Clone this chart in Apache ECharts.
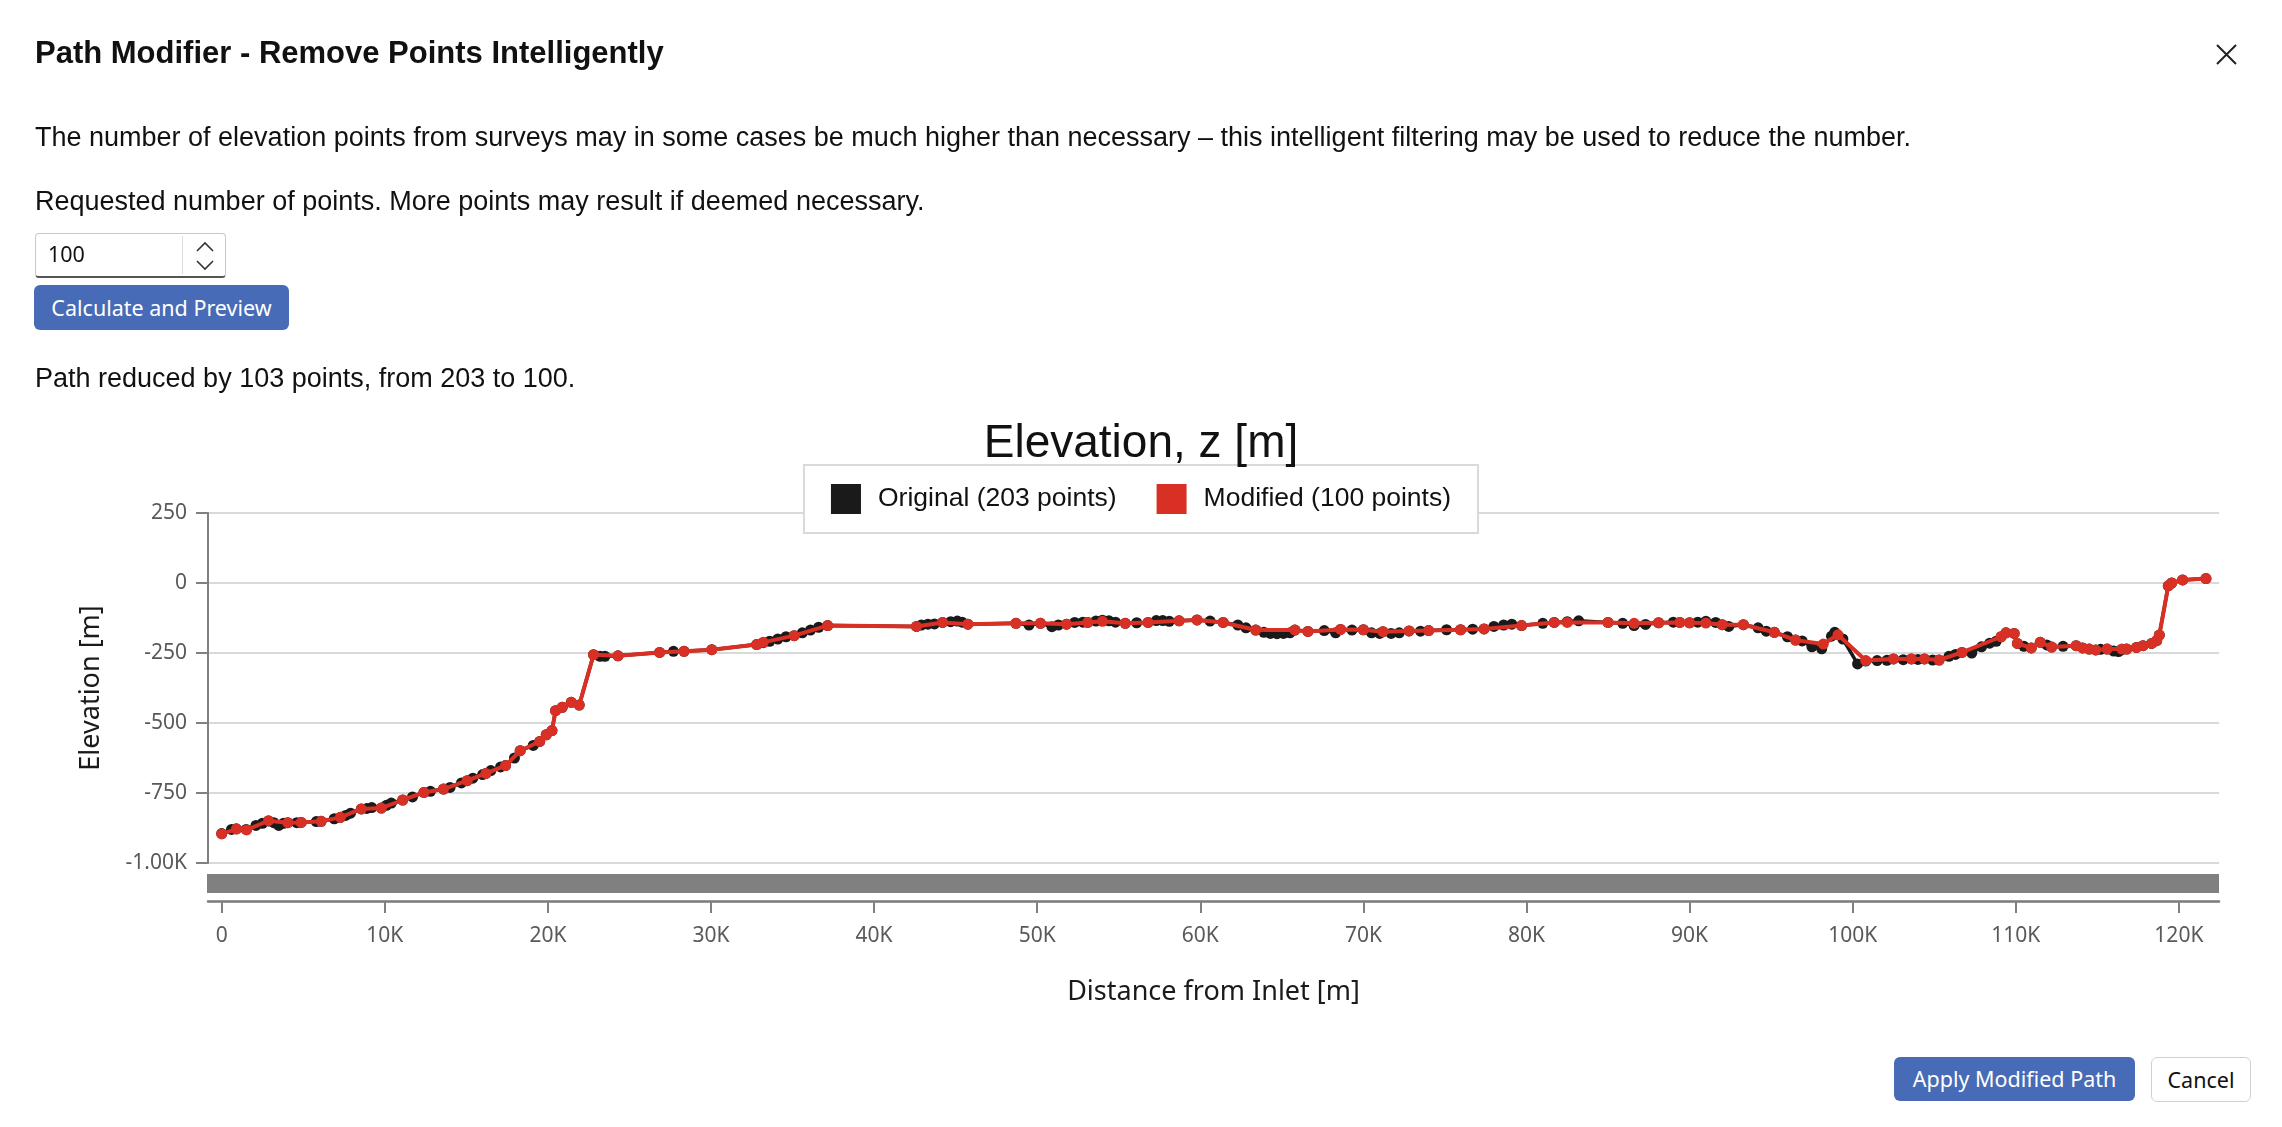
<!DOCTYPE html>
<html>
<head>
<meta charset="utf-8">
<title>Path Modifier</title>
<script src="https://cdn.jsdelivr.net/npm/echarts@6/dist/echarts.min.js"></script>
<style>
html, body { margin: 0; padding: 0; background: #fff; }
body { width: 2282px; height: 1127px; position: relative; overflow: hidden;
       font-family: "Liberation Sans", Arial, sans-serif; color: #111; }
#main { position: absolute; left: 0; top: 0; width: 2282px; height: 1127px; }
.ui { position: absolute; z-index: 2; white-space: nowrap; line-height: 1; }
.head { left: 35px; top: 37px; font-size: 31px; font-weight: bold; }
.txt { left: 35px; font-size: 27px; }
.num { left: 35px; top: 233px; width: 189px; height: 42px; border: 1px solid #c9c9c9;
       border-bottom: 2px solid #555; border-radius: 4px; box-sizing: content-box;
       font-family: "Noto Sans", sans-serif; font-size: 21.5px; }
.num span { position: absolute; left: 12px; top: 9px; }
.num .div { position: absolute; left: 146px; top: 2px; width: 1px; height: 38px; background: #ddd; }
.btn { background: #476bb6; color: #fff; border-radius: 6px; text-align: center;
       font-family: "Noto Sans", sans-serif; font-size: 21.5px; }
.btn2 { background: #fff; color: #111; border: 1px solid #d0d0d0; border-radius: 6px; text-align: center;
        font-family: "Noto Sans", sans-serif; font-size: 21.5px; box-sizing: border-box; }
</style>
</head>
<body>
<div id="main"></div>

<div class="ui head">Path Modifier - Remove Points Intelligently</div>
<svg class="ui" style="left:2216px;top:44px" width="21" height="21" viewBox="0 0 21 21">
  <path d="M1 1 L20 20 M20 1 L1 20" stroke="#222" stroke-width="2" fill="none"/>
</svg>
<div class="ui txt" style="top:124px">The number of elevation points from surveys may in some cases be much higher than necessary – this intelligent filtering may be used to reduce the number.</div>
<div class="ui txt" style="top:188px">Requested number of points. More points may result if deemed necessary.</div>
<div class="ui num"><span>100</span><div class="div"></div>
  <svg style="position:absolute;left:158px;top:5px" width="22" height="34" viewBox="0 0 22 34">
    <path d="M3 12 L11 4 L19 12 M3 22 L11 30 L19 22" stroke="#333" stroke-width="1.6" fill="none"/>
  </svg>
</div>
<div class="ui btn" style="left:34px;top:285px;width:255px;height:45px;line-height:45px">Calculate and Preview</div>
<div class="ui txt" style="top:365px">Path reduced by 103 points, from 203 to 100.</div>
<div class="ui btn" style="left:1894px;top:1057px;width:241px;height:44px;line-height:44px">Apply Modified Path</div>
<div class="ui btn2" style="left:2151px;top:1057px;width:100px;height:45px;line-height:43px">Cancel</div>

<script>
// original survey path (distance from inlet [m], elevation [m])
var distOriginal = [
    0, 600, 900, 1500, 2100, 2500, 2870, 3200, 3500, 3800,
    4050, 4600, 4870, 5800, 6100, 6900, 7280, 7600, 7900, 8560,
    8900, 9200, 9790, 10100, 10400, 11100, 11700, 12400, 12800, 13600,
    14000, 14700, 15050, 15400, 16000, 16200, 16500, 17100, 17400, 17950,
    18300, 19100, 19500, 19900, 20250, 20470, 20880, 21430, 21920, 22800,
    23200, 23500, 24300, 26850, 27700, 28350, 30050, 32800, 33200, 33600,
    34100, 34600, 35100, 35600, 36100, 36600, 37150,
    42600, 42900, 43300, 43700, 44200, 44700, 45100, 45400, 45750, 48700,
    49500, 50200, 50900, 51300, 51800, 52300, 52800, 53100, 53600, 54000,
    54400, 54800, 55400, 56100, 56800, 57300, 57700, 58100, 58700, 59800,
    60600, 61400, 62300, 62800, 63400, 63900, 64300, 64700, 65100, 65500,
    65800, 66600, 67600, 68300, 68600, 69300, 70000, 70500, 71000, 71200,
    71700, 72200,
    72800, 73500, 74000, 75100, 75960, 76700, 77400, 78000, 78600, 79100,
    79700, 81000, 81700, 82500, 83200, 85000, 85900, 86600, 87300, 88100,
    89000, 89400, 90000, 90500, 91000, 91600, 92000, 92400, 93300, 94200,
    94700, 95200, 96000, 96500, 96900, 97500, 98100, 98700, 98900, 99400,
    100300, 100800, 101500, 102100, 102500, 103100, 103600, 104000, 104400, 104900,
    105300, 105900, 106300, 106700, 107300, 107900, 108400, 108800, 109100,
    109400, 109900, 110100, 110500, 110950, 111500, 111900, 112200, 112900, 113700,
    114100, 114500, 114900, 115200, 115600, 116000, 116300, 116500, 116800, 117400,
    117800, 118330, 118640, 118800, 119350, 119560, 120230, 121660
];
var elevOriginal = [
    -895, -880, -878, -880, -866, -858, -850, -856, -866, -858,
    -856, -856, -855, -852, -851, -842, -837, -830, -822, -807,
    -805, -802, -804, -794, -786, -775, -764, -748, -744, -736,
    -730, -714, -706, -697, -684, -680, -670, -657, -652, -625,
    -599, -580, -566, -542, -527, -456, -444, -426, -436, -256,
    -262, -262, -260, -248, -244, -244, -238, -220, -213, -208,
    -200, -192, -188, -178, -168, -158, -152,
    -155, -150, -147, -146, -141, -138, -136, -140, -147, -144,
    -150, -144, -156, -150, -147, -141, -140, -141, -136, -133,
    -135, -140, -144, -142, -141, -134, -134, -137, -135, -132,
    -136, -141, -150, -160, -168, -176, -180, -181, -180, -178,
    -168, -173, -170, -178, -166, -168, -167, -178, -180, -174,
    -180, -178,
    -171, -172, -170, -167, -167, -165, -164, -155, -150, -147,
    -152, -144, -141, -138, -135, -141, -144, -152, -148, -142,
    -140, -141, -142, -140, -137, -141, -149, -155, -149, -160,
    -172, -176, -192, -204, -207, -228, -235, -190, -176, -200,
    -289, -279, -277, -276, -271, -274, -271, -273, -271, -275,
    -275, -262, -255, -248, -250, -228, -215, -208, -192,
    -178, -180, -216, -226, -232, -212, -221, -229, -226, -224,
    -232, -236, -239, -237, -236, -243, -245, -238, -236, -230,
    -224, -216, -206, -186, -10, 0, 11, 16
];

// filtered path
var distModified = [
    0, 900, 1530, 2870, 4050, 4870, 6100, 7280, 8560, 9790,
    11100, 12400, 13600, 15050, 16200, 17400, 18300, 19500, 19900, 20250,
    20470, 20880, 21430, 21920, 22800, 24300, 26850, 28350, 30050, 32800,
    33200, 35100, 37150, 42600, 44200, 45750, 48700, 50200, 51800, 53100,
    54000, 55400, 56800, 58700, 59800, 61400, 63400, 65800, 66600, 68600,
    70000, 71200, 72800, 74000, 75960, 77400, 79700, 81700, 82500, 85000,
    86600, 88100, 89400, 90000, 91000, 92000, 93300, 95200, 96500, 98200,
    99100, 100800, 102500, 103600, 104400, 105300, 106700, 109100, 109400, 109900,
    110100, 110950, 111500, 112200, 113700, 114100, 114500, 114900, 115600, 116500,
    116800, 117400, 117800, 118330, 118640, 118800, 119350, 119560, 120230, 121660
];
var elevModified = [
    -896, -879, -882, -849, -856, -855, -851, -837, -807, -804,
    -775, -748, -736, -706, -680, -652, -599, -566, -542, -527,
    -456, -444, -426, -436, -256, -260, -248, -244, -238, -220,
    -212, -188, -152, -155, -141, -147, -144, -144, -147, -141,
    -137, -144, -141, -135, -132, -141, -168, -168, -173, -166,
    -167, -174, -171, -170, -167, -164, -152, -141, -141, -141,
    -144, -142, -141, -142, -143, -149, -149, -176, -204, -218,
    -185, -277, -271, -271, -271, -275, -248, -192, -178, -180,
    -216, -232, -212, -229, -224, -232, -236, -239, -236, -236,
    -236, -230, -224, -216, -206, -186, -10, 0, 11, 16
];

var xTickValues = [0, 10000, 20000, 30000, 40000, 50000, 60000, 70000, 80000, 90000, 100000, 110000, 120000];
var xRange = [-840, 122460];
var yRange = [-1000, 250];
var yStep = 250;

var seriesNames = ['Original (203 points)', 'Modified (100 points)'];

function pairs(xs, ys) {
    var out = [];
    for (var i = 0; i < xs.length; i++) {
        out.push([xs[i], ys[i]]);
    }
    return out;
}

function draw() {
    var chart = echarts.init(document.getElementById('main'), null, { width: 2282, height: 1127 });
    var uiFont = '"Noto Sans", "Open Sans", sans-serif';
    var option = {
        animation: false,
        title: {
            text: 'Elevation, z [m]',
            left: 'center',
            top: 421,
            padding: 0,
            textStyle: { fontFamily: '"Liberation Sans", Arial', fontSize: 46, fontWeight: 'normal', color: '#111' }
        },
        legend: {
            top: 465,
            left: 'center',
            padding: [19, 27, 19, 27],
            itemWidth: 30,
            itemHeight: 30,
            itemGap: 40,
            icon: 'rect',
            borderColor: '#d9d9d9',
            borderWidth: 2,
            backgroundColor: '#fff',
            textStyle: { fontFamily: '"Liberation Sans", Arial', fontSize: 26.5, color: '#111', padding: [0, 0, 0, 12] },
            data: seriesNames
        },
        grid: { left: 208, right: 63, top: 513, bottom: 264, containLabel: false },
        graphic: [{
            type: 'rect',
            left: 207,
            top: 874,
            shape: { width: 2012, height: 19 },
            style: { fill: '#808080' }
        }],
        xAxis: {
            type: 'value',
            min: xRange[0],
            max: xRange[1],
            offset: 38,
            name: 'Distance from Inlet [m]',
            nameLocation: 'middle',
            nameGap: 78,
            nameTextStyle: { fontFamily: uiFont, fontSize: 27, color: '#1a1a1a' },
            axisLine: { show: true, onZero: false, lineStyle: { color: '#7a7a7a', width: 2.5 } },
            axisTick: { show: true, length: 12, customValues: xTickValues, lineStyle: { color: '#808080', width: 2 } },
            axisLabel: {
                customValues: xTickValues,
                margin: 25,
                fontFamily: uiFont,
                fontSize: 21,
                color: '#595959',
                formatter: function (v) { return v === 0 ? '0' : (v / 1000) + 'K'; }
            },
            splitLine: { show: false }
        },
        yAxis: {
            type: 'value',
            min: yRange[0],
            max: yRange[1],
            interval: yStep,
            name: 'Elevation [m]',
            nameLocation: 'middle',
            nameRotate: 90,
            nameGap: 103,
            nameTextStyle: { fontFamily: uiFont, fontSize: 27, color: '#1a1a1a' },
            axisLine: { show: true, onZero: false, lineStyle: { color: '#808080', width: 2 } },
            axisTick: { show: true, length: 12, lineStyle: { color: '#808080', width: 2 } },
            axisLabel: {
                margin: 21,
                fontFamily: uiFont,
                fontSize: 21,
                color: '#595959',
                formatter: function (v) {
                    return Math.abs(v) >= 1000 ? (v / 1000).toFixed(2) + 'K' : String(v);
                }
            },
            splitLine: { show: true, lineStyle: { color: '#d9d9d9', width: 2 } }
        },
        series: [
            {
                name: seriesNames[0],
                type: 'line',
                data: pairs(distOriginal, elevOriginal),
                symbol: 'circle',
                symbolSize: 11,
                z: 2,
                itemStyle: { color: '#1a1a1a' },
                lineStyle: { color: '#1a1a1a', width: 3.5 }
            },
            {
                name: seriesNames[1],
                type: 'line',
                data: pairs(distModified, elevModified),
                symbol: 'circle',
                symbolSize: 11,
                z: 3,
                itemStyle: { color: '#d93025' },
                lineStyle: { color: '#d93025', width: 4 }
            }
        ]
    };
    chart.setOption(option);
}

draw();
</script>
</body>
</html>
